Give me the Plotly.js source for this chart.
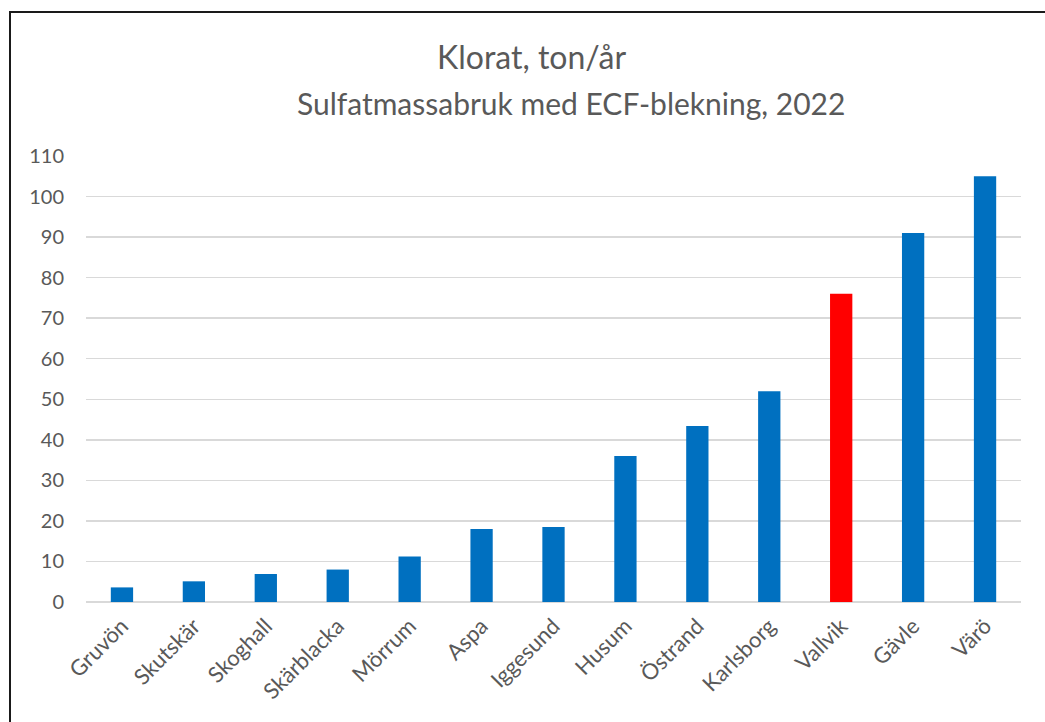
<!DOCTYPE html>
<html>
<head>
<meta charset="utf-8">
<script src="https://cdn.plot.ly/plotly-3.0.1.min.js"></script>
<style>
html,body{margin:0;padding:0;background:#fff;overflow:hidden;}
#chart{width:1045px;height:722px;}
</style>
</head>
<body>
<div id="chart"></div>
<script>
const categories = ["Gruvön","Skutskär","Skoghall","Skärblacka","Mörrum","Aspa","Iggesund","Husum","Östrand","Karlsborg","Vallvik","Gävle","Värö"];
const values = [3.6, 5.1, 6.9, 8.0, 11.2, 18.0, 18.5, 36.0, 43.4, 52.0, 76.0, 91.0, 105.0];
const highlight = "Vallvik";
const yTicks = [0,10,20,30,40,50,60,70,80,90,100,110];
const titleLines = ["Klorat, ton/år", "Sulfatmassabruk med ECF-blekning, 2022"];

const colors = categories.map(c => c === highlight ? "#FF0000" : "#0070C0");
const font = "Lato, 'Open Sans', sans-serif";

const W = 1045, H = 722;
const mL = 86, mR = 24, mT = 156, mB = 120;
const pw = W - mL - mR, ph = H - mT - mB;
const pyToPaper = py => (H - mB - py) / ph;
const pxToPaper = px => (px - mL) / pw;

const data = [{
  type: "bar",
  x: categories,
  y: values,
  marker: {color: colors, line: {width: 0}},
  hoverinfo: "x+y"
}];

const titlePos = [{x: 531, y: 57, size: 32}, {x: 571, y: 103, size: 30}];

const layout = {
  width: W, height: H,
  margin: {l: mL, r: mR, t: mT, b: mB, pad: 0},
  paper_bgcolor: "#fff",
  plot_bgcolor: "#fff",
  showlegend: false,
  bargap: 0.69,
  font: {family: font, color: "#595959"},
  annotations: titleLines.map((t, i) => ({
    text: t,
    xref: "paper", yref: "paper",
    x: pxToPaper(titlePos[i].x), xanchor: "center",
    y: pyToPaper(titlePos[i].y), yanchor: "middle",
    showarrow: false,
    font: {family: font, size: titlePos[i].size, color: "#595959"}
  })),
  xaxis: {
    type: "category",
    tickangle: -45,
    tickfont: {family: font, size: 22, color: "#595959"},
    showgrid: false,
    showline: false,
    ticks: "",
    ticklabelstandoff: 6,
    fixedrange: true
  },
  yaxis: {
    range: [0, 110],
    tickvals: yTicks,
    ticktext: yTicks.map(String),
    tickfont: {family: font, size: 20, color: "#595959"},
    showgrid: true,
    gridcolor: "#D9D9D9",
    gridwidth: 1.5,
    zeroline: true,
    zerolinecolor: "#D9D9D9",
    zerolinewidth: 1.5,
    showline: false,
    ticks: "",
    ticklabelstandoff: 21,
    fixedrange: true
  },
  shapes: [{
    type: "rect",
    xref: "paper", yref: "paper",
    x0: pxToPaper(10), x1: pxToPaper(W + 20),
    y0: -(mB + 20) / ph, y1: pyToPaper(12),
    line: {color: "#1a1a1a", width: 2},
    fillcolor: "rgba(0,0,0,0)",
    layer: "above"
  }]
};

Plotly.newPlot("chart", data, layout, {displayModeBar: false, staticPlot: true});
</script>
</body>
</html>
